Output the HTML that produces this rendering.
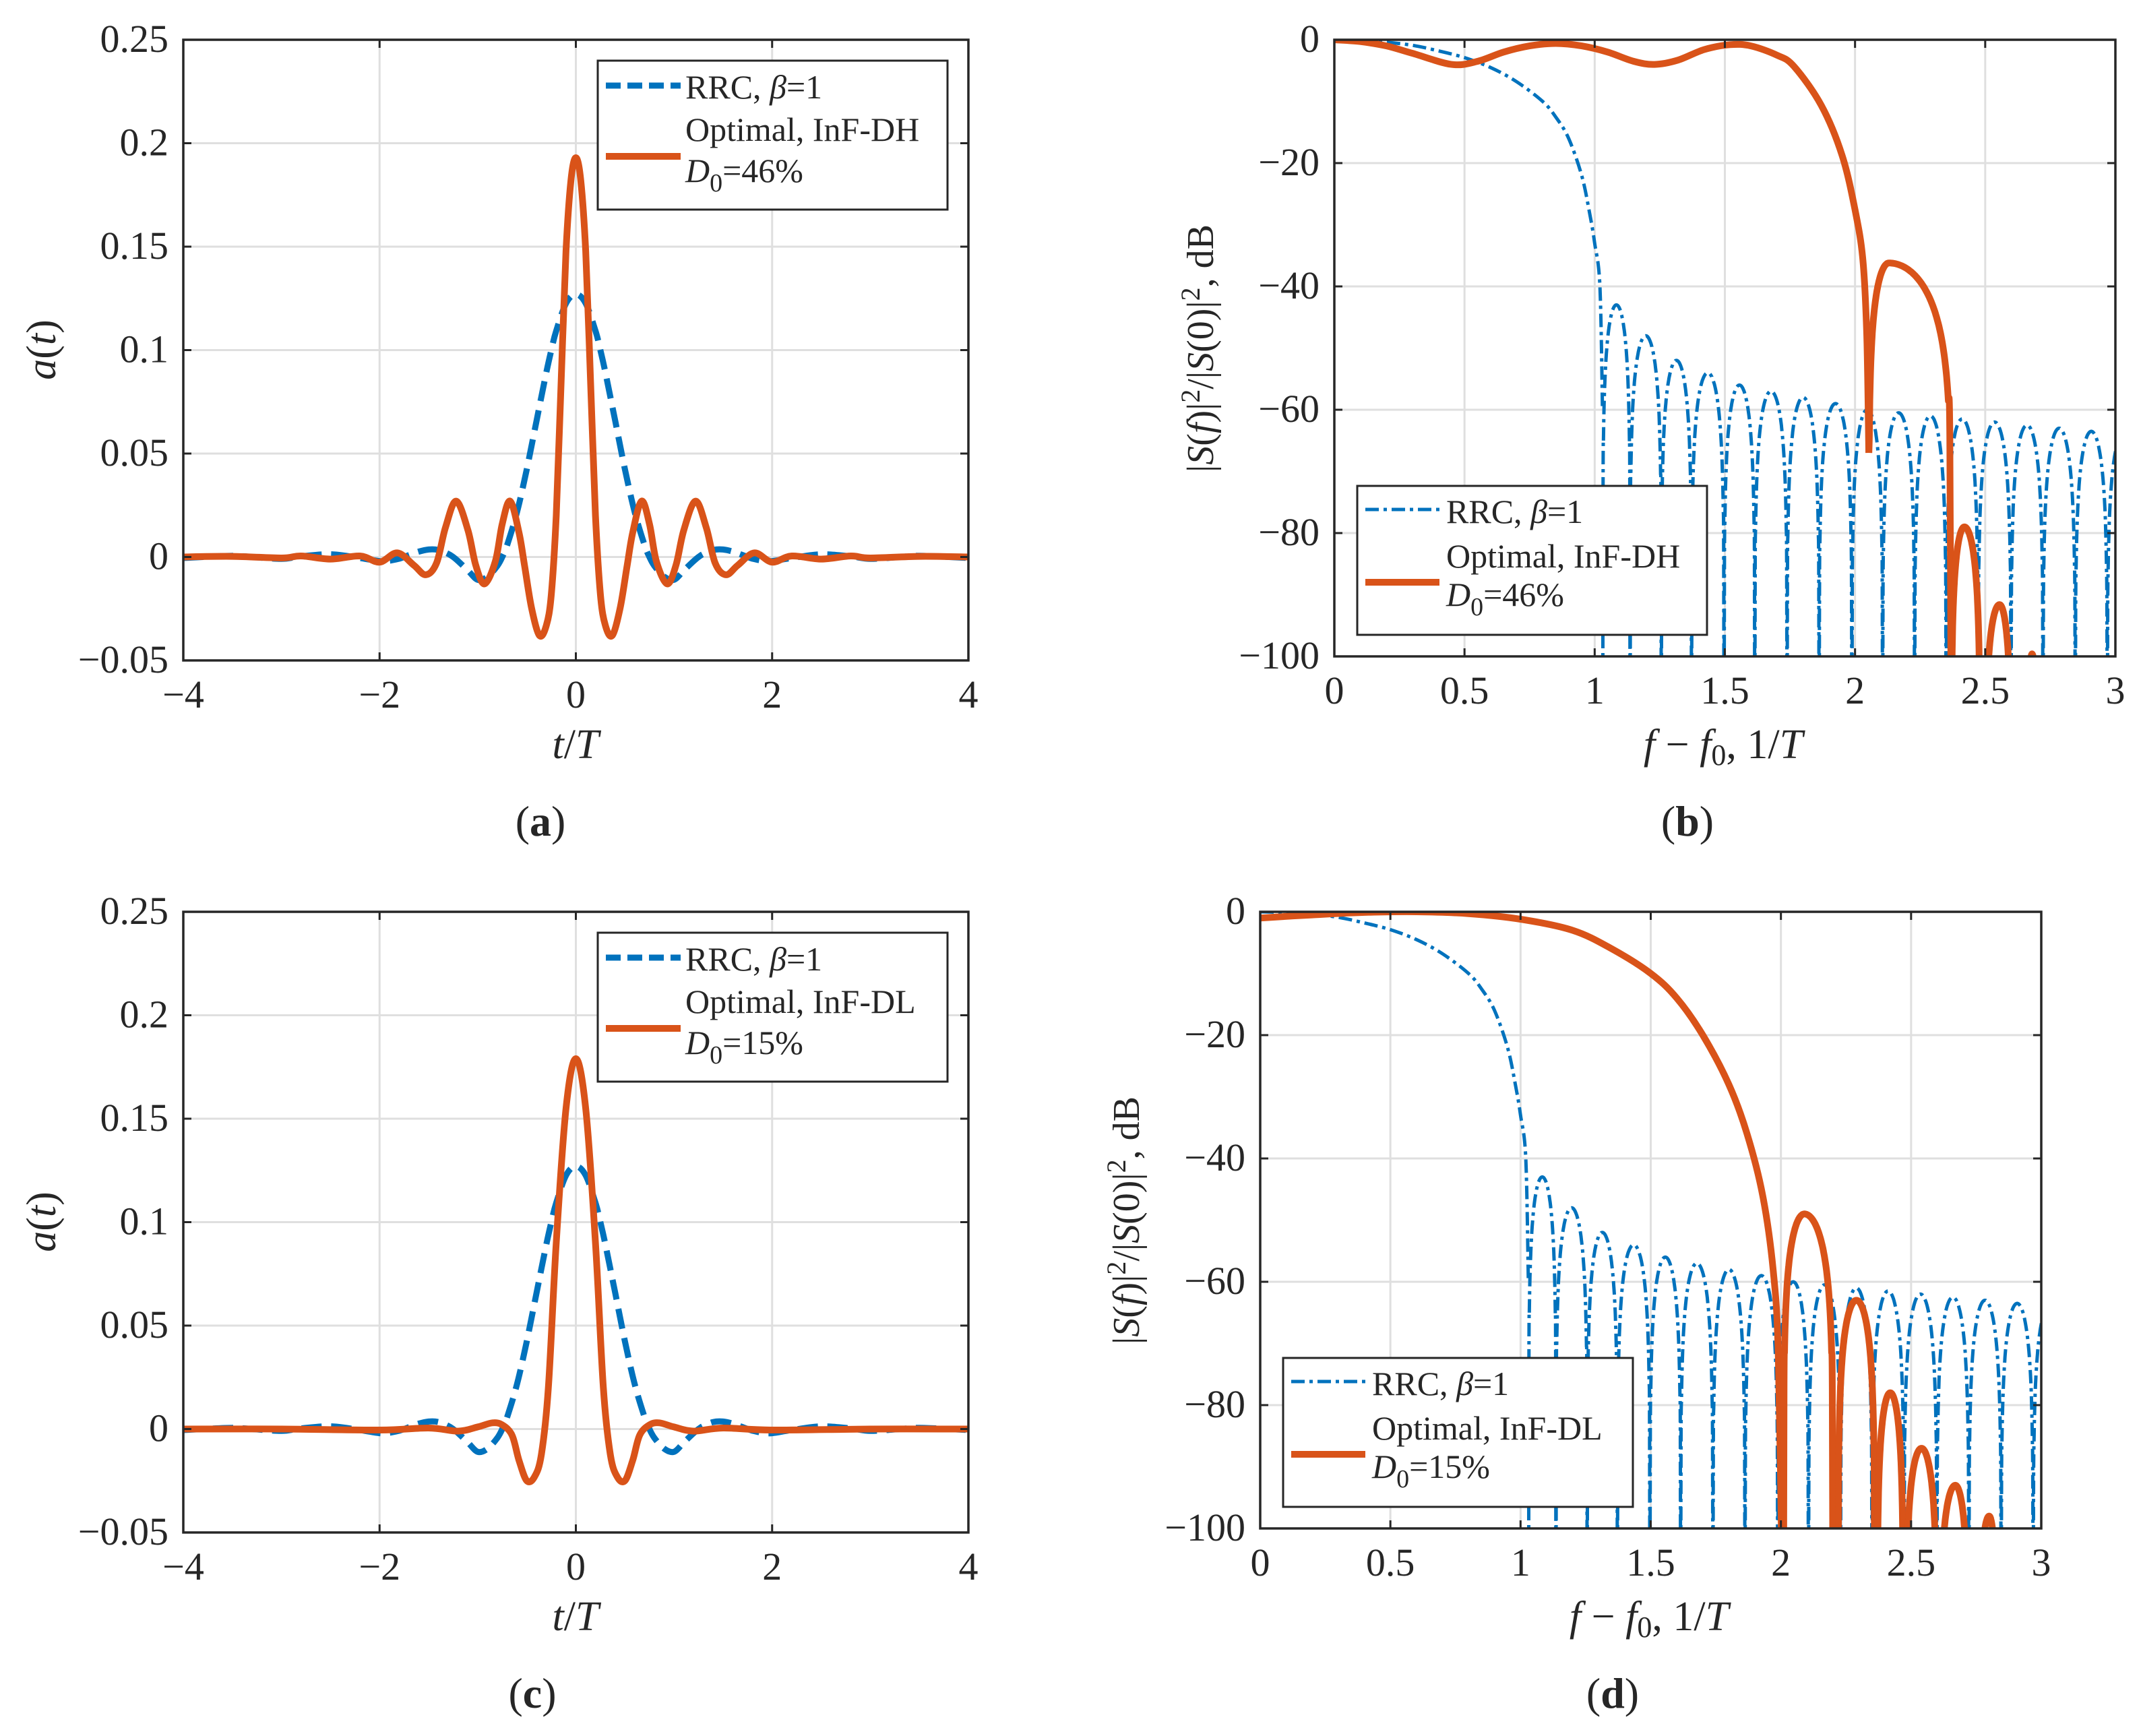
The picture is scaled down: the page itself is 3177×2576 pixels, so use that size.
<!DOCTYPE html>
<html><head><meta charset="utf-8"><style>
html,body{margin:0;padding:0;background:#fff;}
svg{display:block;}
text{font-family:"Liberation Serif",serif;fill:#262626;}
</style></head><body>
<svg id="fig" width="3177" height="2576" viewBox="0 0 3177 2576" xmlns="http://www.w3.org/2000/svg"></svg>
<script>
// ---------- DATA ----------
const rrcT   = [0,0.1,0.2,0.25,0.3,0.4,0.5,0.6,0.7,0.75,0.8,0.9,1.0,1.1,1.2,1.25,1.3,1.4,1.5,1.6,1.7,1.75,1.8,1.9,2.0,2.2,2.5,2.8,3.0,3.3,3.5,3.8,4.0];
const rrcA   = [0.127,0.1226,0.1093,0.1,0.0894,0.066,0.0424,0.0216,0.0058,0,-0.0043,-0.0095,-0.011,-0.0065,-0.002,0,0.0015,0.0034,0.0036,0.0026,0.0009,0,-0.0008,-0.0018,-0.002,-0.0005,0.0013,0.0003,-0.0009,0,0.0006,0,-0.0005];
const optAT  = [0,0.05,0.1,0.15,0.2,0.25,0.3,0.37,0.45,0.52,0.58,0.67,0.75,0.82,0.93,1.02,1.1,1.22,1.33,1.42,1.53,1.65,1.82,2.0,2.2,2.5,2.8,3.0,3.5,4.0];
const optAV  = [0.193,0.182,0.148,0.085,0.02,-0.018,-0.033,-0.038,-0.025,-0.005,0.012,0.027,0.016,-0.002,-0.013,-0.004,0.013,0.027,0.014,-0.003,-0.0086,-0.004,0.002,-0.0025,0.0005,-0.001,0.0005,-0.0005,0.0003,0];
const optCT  = [0,0.1,0.2,0.28,0.35,0.42,0.5,0.58,0.65,0.75,0.85,1.0,1.2,1.5,2.0,3.0,4.0];
const optCV  = [0.179,0.155,0.09,0.02,-0.012,-0.023,-0.025,-0.015,-0.003,0.002,0.003,0.001,-0.001,0.0005,-0.0005,0,0];
const rrcMainF  = [0,0.1,0.2,0.3,0.4,0.5,0.6,0.7,0.8,0.85,0.9,0.95,0.98,1.0,1.02,1.03];
const rrcMainDb = [0,-0.1,-0.4,-0.9,-1.8,-2.9,-4.5,-6.8,-10,-12.5,-16,-22,-28,-33,-40,-60];
const rrcNullF  = [1.031,1.136,1.256,1.372,1.497,1.615,1.739,1.862,1.988,2.106,2.229,2.35,2.473,2.599,2.722,2.846,2.969,3.09];
const rrcPeakDb = [-43,-48,-52,-54,-56,-57,-58,-59,-60,-60.5,-61,-61.5,-62,-62.5,-63,-63.5,-64];
const optBF  = [0,0.1,0.2,0.3,0.45,0.55,0.65,0.75,0.85,0.95,1.05,1.15,1.23,1.32,1.42,1.52,1.6,1.7,1.765,1.87,1.95,2.0,2.03,2.045,2.053];
const optBDb = [0,-0.3,-1,-2.2,-4,-3.5,-2,-1,-0.6,-1,-2,-3.5,-4,-3.3,-1.6,-0.8,-1,-2.5,-4.3,-10.6,-18.7,-27.6,-35.7,-48,-67];
const optBLobeStart = [2.053,2.37,2.50,2.66];
const optBLobePeakF = [2.13,2.42,2.555,2.68];
const optBLobePeak  = [-36.2,-79,-91.6,-99.6];
const optBLobeEnd   = [2.37,2.48,2.60,2.70];
const optBLobeFloor = [-67,-120,-120,-102];
const optDF  = [0,0.2,0.4,0.6,0.8,1.0,1.2,1.35,1.5,1.6,1.7,1.8,1.87,1.93,1.97,1.99,2.005];
const optDDb = [-1,-0.5,-0.1,0,-0.3,-1.2,-3,-6,-10,-14,-20,-28,-36,-46,-58,-72,-110];
const optDLobeStart = [2.01,2.22,2.37,2.48,2.61,2.76];
const optDLobePeakF = [2.09,2.29,2.42,2.54,2.67,2.8];
const optDLobePeak  = [-49,-63,-78,-87,-93,-98];
const optDLobeEnd   = [2.2,2.36,2.47,2.6,2.72,2.83];
const tTicks = [-4,-2,0,2,4];
const aTicks = [-0.05,0,0.05,0.1,0.15,0.2,0.25];
const aTickLabels = ["−0.05","0","0.05","0.1","0.15","0.2","0.25"];
const fTicks = [0,0.5,1,1.5,2,2.5,3];
const fTickLabels = ["0","0.5","1","1.5","2","2.5","3"];
const dbTicks = [-100,-80,-60,-40,-20,0];
const dbTickLabels = ["−100","−80","−60","−40","−20","0"];

// ---------- DRAW ----------
const NS="http://www.w3.org/2000/svg";
const svg=document.getElementById('fig');
const BLUE="#0072BD", ORANGE="#D95319";
function mk(tag,attrs,parent){const e=document.createElementNS(NS,tag);for(const k in attrs)e.setAttribute(k,attrs[k]);(parent||svg).appendChild(e);return e;}
function smoothPath(pts){
  if(pts.length<2)return"";
  let d="M"+pts[0][0].toFixed(1)+","+pts[0][1].toFixed(1);
  for(let i=0;i<pts.length-1;i++){
    const p0=pts[Math.max(0,i-1)],p1=pts[i],p2=pts[i+1],p3=pts[Math.min(pts.length-1,i+2)];
    const c1=[p1[0]+(p2[0]-p0[0])/6,p1[1]+(p2[1]-p0[1])/6];
    const c2=[p2[0]-(p3[0]-p1[0])/6,p2[1]-(p3[1]-p1[1])/6];
    d+="C"+c1[0].toFixed(1)+","+c1[1].toFixed(1)+" "+c2[0].toFixed(1)+","+c2[1].toFixed(1)+" "+p2[0].toFixed(1)+","+p2[1].toFixed(1);
  }
  return d;
}
function mirror(ts,vs){const t=[],v=[];for(let i=ts.length-1;i>0;i--){t.push(-ts[i]);v.push(vs[i]);}for(let i=0;i<ts.length;i++){t.push(ts[i]);v.push(vs[i]);}return [t,v];}
function lobePts(s,pf,pk,e,floor){
  const out=[];const N=80;
  for(let i=0;i<=N;i++){
    const u=i/N;
    const f=u<=0.5? s+(pf-s)*(u/0.5) : pf+(e-pf)*((u-0.5)/0.5);
    let v=pk+20*Math.log10(Math.max(1e-6,Math.sin(Math.PI*u)));
    v=Math.max(v,u<=0.5?floor:-120);
    out.push([f,v]);
  }
  return out;
}
let clipId=0;
function panel(o){
  const g=mk('g',{});
  
  
  const X=v=>o.x0+(v-o.xmin)/(o.xmax-o.xmin)*(o.x1-o.x0);
  const Y=v=>o.y1-(v-o.ymin)/(o.ymax-o.ymin)*(o.y1-o.y0);
  o.xt.forEach(t=>{const l=mk('line',{x1:X(t),x2:X(t),y1:o.y0,y2:o.y1,stroke:"#dfdfdf","stroke-width":3},g);});
  o.yt.forEach(t=>{const l=mk('line',{x1:o.x0,x2:o.x1,y1:Y(t),y2:Y(t),stroke:"#dfdfdf","stroke-width":3},g);});
  const cid="clip"+(clipId++);
  const cp=mk('clipPath',{id:cid},g);mk('rect',{x:o.x0,y:o.y0,width:o.x1-o.x0,height:o.y1-o.y0},cp);
  const plot=mk('g',{"clip-path":"url(#"+cid+")"},g);
  
  o.series.forEach(s=>{
    s.segs.forEach(seg=>{
      const pts=seg.map(p=>[X(p[0]),Y(p[1])]);
      const p=mk('path',{d:smoothPath(pts),fill:"none",stroke:s.color,"stroke-width":s.w,"stroke-dasharray":s.dash||"none","stroke-linejoin":"round","stroke-linecap":s.cap||"butt"},plot);
      
    });
  });
  const bx=mk('rect',{x:o.x0,y:o.y0,width:o.x1-o.x0,height:o.y1-o.y0,fill:"none",stroke:"#262626","stroke-width":3.5},g);
  
  o.xt.forEach((t,i)=>{
    mk('line',{x1:X(t),x2:X(t),y1:o.y1,y2:o.y1-12,stroke:"#262626","stroke-width":3},g);
    mk('line',{x1:X(t),x2:X(t),y1:o.y0,y2:o.y0+12,stroke:"#262626","stroke-width":3},g);
    const tx=mk('text',{x:X(t),y:o.y1+70,"font-size":58,"text-anchor":"middle"},g);tx.textContent=o.xl[i];
    
  });
  o.yt.forEach((t,i)=>{
    mk('line',{x1:o.x0,x2:o.x0+12,y1:Y(t),y2:Y(t),stroke:"#262626","stroke-width":3},g);
    mk('line',{x1:o.x1,x2:o.x1-12,y1:Y(t),y2:Y(t),stroke:"#262626","stroke-width":3},g);
    const tx=mk('text',{x:o.x0-22,y:Y(t)+18,"font-size":58,"text-anchor":"end"},g);tx.textContent=o.yl[i];
    
  });
  return g;
}
function legend(x,y,w,h,lx0,lx1,blueDash,blueW,orangeW,name,textX,b1,b2,b3,dy,label){
  const g=mk('g',{});
  
  mk('rect',{x:x,y:y,width:w,height:h,fill:"#fff",stroke:"#262626","stroke-width":3},g);
  const l1=mk('line',{x1:lx0,x2:lx1,y1:y+dy[0],y2:y+dy[0],stroke:BLUE,"stroke-width":blueW,"stroke-dasharray":blueDash},g);
  
  const l2=mk('line',{x1:lx0,x2:lx1,y1:y+dy[1],y2:y+dy[1],stroke:ORANGE,"stroke-width":orangeW},g);
  
  const t1=mk('text',{x:textX,y:y+b1,"font-size":50},g);
  t1.innerHTML='RRC, <tspan font-style="italic">β</tspan>=1';
  
  const t2=mk('text',{x:textX,y:y+b2,"font-size":50},g);t2.textContent='Optimal, '+name;
  
  const t3=mk('text',{x:textX,y:y+b3,"font-size":50},g);
  t3.innerHTML='<tspan font-style="italic">D</tspan><tspan font-size="38" dy="14">0</tspan><tspan dy="-14">='+label+'</tspan>';
  
}
function txt(x,y,html,size,attrs,name){const t=mk('text',Object.assign({x:x,y:y,"font-size":size,"text-anchor":"middle"},attrs||{}));t.innerHTML=html;return t;}

const zip=(a,b)=>a.map((v,i)=>[v,b[i]]);
const [rt,rv]=mirror(rrcT,rrcA);
const [oat,oav]=mirror(optAT,optAV);
const [oct,ocv]=mirror(optCT,optCV);
function rrcSpecSegs(){
  const segs=[zip(rrcMainF,rrcMainDb)];
  for(let i=0;i<rrcPeakDb.length;i++){
    const s=rrcNullF[i],e=rrcNullF[i+1];
    segs.push(lobePts(s,(s+e)/2,rrcPeakDb[i],e,-120));
  }
  return segs;
}
function lobesSegs(st,pf,pk,en,fl){return st.map((s,i)=>lobePts(s,pf[i],pk[i],en[i],fl?fl[i]:-120));}

const dyA=1294;
[[0,"a",oat,oav,"InF-DH","46%"],[dyA,"c",oct,ocv,"InF-DL","15%"]].forEach(([dy,lab,ot,ov,nm,pct])=>{
  panel({name:"panel-"+lab,x0:272,x1:1437,y0:59+dy,y1:980+dy,xmin:-4,xmax:4,ymin:-0.05,ymax:0.25,
    xt:tTicks,xl:tTicks.map(v=>v<0?"−"+(-v):""+v),yt:aTicks,yl:aTickLabels,
    series:[
      {name:"rrc-line",color:BLUE,w:9,dash:"30 14",segs:[zip(rt,rv)]},
      {name:"optimal-line",color:ORANGE,w:10,segs:[zip(ot,ov)]}
    ]});
  legend(887,90+dy,519,221,899,1010,"22 10",9,10,nm,1017,56,119,180,[37,142],pct);
  txt(854,1125+dy,'<tspan font-style="italic">t</tspan>/<tspan font-style="italic">T</tspan>',62,{},"x-axis-title");
  txt(0,0,'<tspan font-style="italic">a</tspan>(<tspan font-style="italic">t</tspan>)',62,{transform:"translate(82,"+(519+dy)+") rotate(-90)"},"y-axis-title");
});
txt(802,1240,'(<tspan font-weight="bold">a</tspan>)',64,{},"caption-a");
txt(790,2534,'(<tspan font-weight="bold">c</tspan>)',64,{},"caption-c");

[[1980,59,"b",zip(optBF,optBDb),lobesSegs(optBLobeStart,optBLobePeakF,optBLobePeak,optBLobeEnd,optBLobeFloor),"InF-DH","46%"],
 [1870,1353,"d",zip(optDF,optDDb),lobesSegs(optDLobeStart,optDLobePeakF,optDLobePeak,optDLobeEnd),"InF-DL","15%"]].forEach(([x0,y0,lab,main,lobes,nm,pct])=>{
  panel({name:"panel-"+lab,x0:x0,x1:x0+1159,y0:y0,y1:y0+915,xmin:0,xmax:3,ymin:-100,ymax:0,
    xt:fTicks,xl:fTickLabels,yt:dbTicks,yl:dbTickLabels,
    series:[
      {name:"rrc-spectrum",color:BLUE,w:5,dash:"20 7 5 7",segs:rrcSpecSegs()},
      {name:"optimal-spectrum",color:ORANGE,w:10,segs:[main].concat(lobes)}
    ]});
  const lx=x0+34, ly=y0+662;
  legend(lx,ly,519,221,lx+12,lx+122,"20 7 5 7",5,10,nm,lx+132,55,121,178,[35,143],pct);
  txt(x0+577,y0+1066,'<tspan font-style="italic">f</tspan> − <tspan font-style="italic">f</tspan><tspan font-size="44" dy="10">0</tspan><tspan dy="-10">, 1/</tspan><tspan font-style="italic">T</tspan>',62,{},"x-axis-title");
  txt(0,0,'|<tspan font-style="italic">S</tspan>(<tspan font-style="italic">f</tspan>)|<tspan font-size="40" dy="-20">2</tspan><tspan dy="20">/|</tspan><tspan font-style="italic">S</tspan>(0)|<tspan font-size="40" dy="-20">2</tspan><tspan dy="20">, dB</tspan>',56,{transform:"translate("+(x0-180)+","+(y0+458)+") rotate(-90)"},"y-axis-title");
});
txt(2504,1240,'(<tspan font-weight="bold">b</tspan>)',64,{},"caption-b");
txt(2393,2534,'(<tspan font-weight="bold">d</tspan>)',64,{},"caption-d");
</script>
</body></html>
